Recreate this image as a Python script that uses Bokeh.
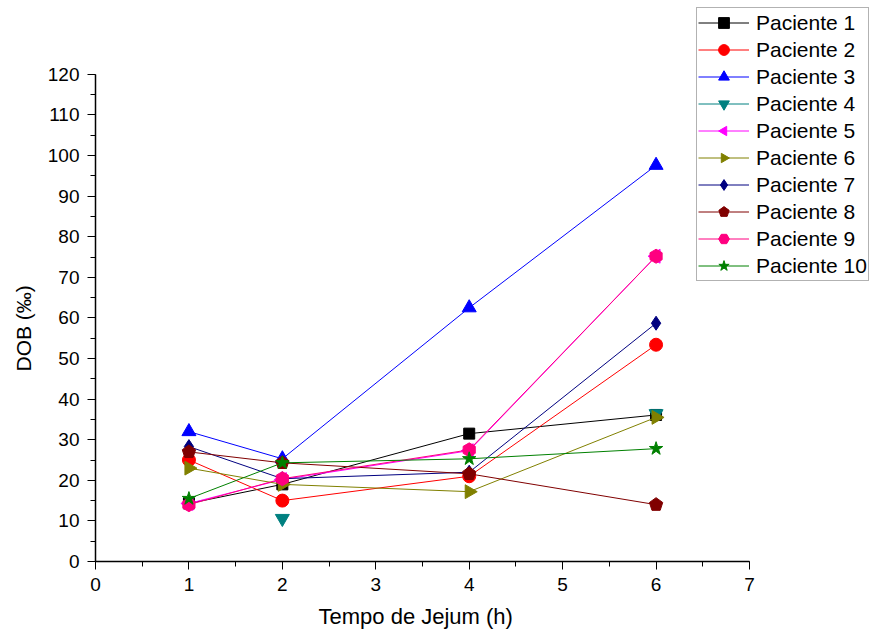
import numpy as np
from bokeh.plotting import figure
from bokeh.models import Range1d, Legend, FixedTicker, Title
from bokeh.embed import file_html
from bokeh.resources import INLINE

nan = float("nan")
hours = [1, 2, 4, 6]
labels = ["Paciente 1", "Paciente 2", "Paciente 3", "Paciente 4", "Paciente 5",
          "Paciente 6", "Paciente 7", "Paciente 8", "Paciente 9", "Paciente 10"]
p1 = [14.3, 19.0, 31.5, 36.1]
p2 = [25.0, 15.0, 21.0, 53.4]
p3 = [32.0, 25.3, 62.5, 97.6]
p4 = [nan, 10.6, nan, 36.4]
p5 = [14.3, 20.2, 27.3, 75.2]
p6 = [23.0, 19.0, 17.2, 35.5]
p7 = [28.3, 20.4, 22.0, 58.7]
p8 = [27.0, 24.3, 21.6, 14.0]
p9 = [14.0, 20.4, 27.5, 75.2]
p10 = [15.5, 24.3, 25.3, 27.8]
series = [p1, p2, p3, p4, p5, p6, p7, p8, p9, p10]
colors = ["#000000", "#FF0000", "#0000FF", "#008080", "#FF00FF",
          "#808000", "#000080", "#800000", "#FF0080", "#008000"]
markers = ["square", "circle", "triangle", "inverted_triangle", "ngon3",
           "ngon3", "diamond", "ngon5", "hex", "star"]
angles = [0, 0, 0, 0, np.pi / 2, -np.pi / 2, 0, 0, np.pi / 6, 0]
sizes = [11, 13, 14, 14, 8, 8, 14, 7, 14, 14]

FONT = "Liberation Sans"
W, H = 872, 637
LEFT, BOTTOM = 95, 75
PX_X = 654 / 7      # pixels per hour
PX_Y = 488 / 120    # pixels per unit of DOB

p = figure(width=W, height=H, output_backend="svg", toolbar_location=None,
           x_range=Range1d(0, (W - LEFT) / PX_X),
           y_range=Range1d(0, (H - BOTTOM) / PX_Y),
           min_border_left=LEFT, min_border_right=0, min_border_top=0,
           min_border_bottom=BOTTOM)
p.outline_line_color = None
p.xgrid.visible = False
p.ygrid.visible = False

items = []
for s, c, m, a, sz, lab in zip(series, colors, markers, angles, sizes, labels):
    r1 = p.line(hours, s, line_color=c, line_width=1)
    if m.startswith("ngon"):
        r2 = p.ngon(hours, s, radius=sz, radius_units="screen", n=int(m[4:]),
                    angle=a, fill_color=c, line_color=c)
    else:
        r2 = p.scatter(hours, s, marker=m, angle=a, size=sz,
                       fill_color=c, line_color=c)
    items.append((lab, [r1, r2]))

legend = Legend(items=items, location=(601, 280))
legend.label_text_font = FONT
legend.label_text_font_size = "21px"
legend.label_text_color = "#000000"
legend.border_line_color = "#666666"
legend.border_line_width = 1
legend.background_fill_color = "white"
legend.background_fill_alpha = 1
legend.glyph_width = 51
legend.glyph_height = 27
legend.label_height = 27
legend.spacing = 0
legend.padding = 1
legend.margin = 0
legend.label_standoff = 7
p.add_layout(legend, "center")

for ax in (p.xaxis[0], p.yaxis[0]):
    ax.axis_line_color = "#000000"
    ax.axis_line_width = 1.5
    ax.major_tick_line_color = "#000000"
    ax.minor_tick_line_color = "#000000"
    ax.major_tick_out = 8
    ax.major_tick_in = 0
    ax.minor_tick_out = 5
    ax.minor_tick_in = 0
    ax.major_label_text_font = FONT
    ax.major_label_text_font_size = "19px"
    ax.major_label_text_color = "#000000"
    ax.major_label_standoff = 8

p.xaxis.bounds = (0, 7)
p.yaxis.bounds = (0, 120)
p.xaxis.ticker = FixedTicker(ticks=list(range(0, 8)),
                             minor_ticks=[i * 0.5 for i in range(0, 15)])
p.yaxis.ticker = FixedTicker(ticks=list(range(0, 121, 10)),
                             minor_ticks=list(range(0, 121, 5)))

xt = Title(text="Tempo de Jejum (h)", align="left", offset=223,
           text_font=FONT, text_font_size="22px", text_font_style="normal",
           text_color="#000000", standoff=17)
p.add_layout(xt, "below")
yt = Title(text="DOB (‰)", align="left", offset=190,
           text_font=FONT, text_font_size="21px", text_font_style="normal",
           text_color="#000000", standoff=19)
p.add_layout(yt, "left")

open("out.html", "w").write(file_html(p, INLINE))
